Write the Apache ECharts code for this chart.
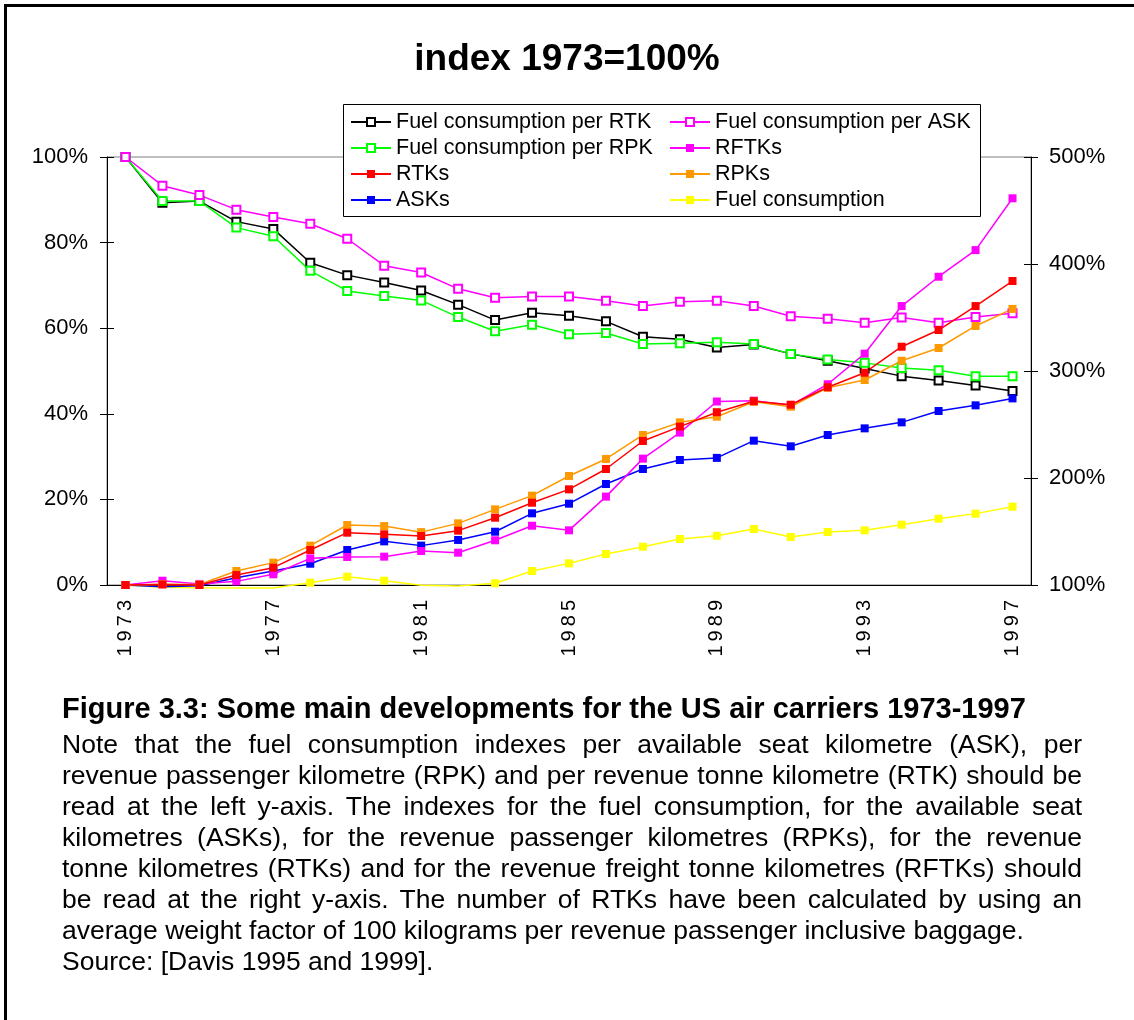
<!DOCTYPE html>
<html>
<head>
<meta charset="utf-8">
<script src="https://cdn.jsdelivr.net/npm/echarts@6/dist/echarts.min.js"></script>
<style>
  html, body { margin: 0; padding: 0; background: #fff; }
  #wrap { position: relative; width: 1134px; height: 1020px; overflow: hidden; }
  #frame { position: absolute; left: 4px; top: 4px; width: 1300px; height: 1200px; border-left: 3px solid #000; border-top: 3px solid #000; }
  #chart { position: absolute; left: 0; top: 0; width: 1134px; height: 1020px; }
  #caption { position: absolute; left: 62px; top: 691px; width: 1020px; font-family: Arial, 'Liberation Sans', sans-serif; color: #000; }
  #caption .head { font-size: 29px; font-weight: bold; line-height: 34px; margin-bottom: 4px; }
  #caption .ln { font-size: 26.5px; line-height: 31px; }
  #caption .j { text-align: justify; text-align-last: justify; }
</style>
</head>
<body>
<div id="wrap">
  <div id="chart"></div>
  <div id="frame"></div>
  <div id="caption">
    <div class="head">Figure 3.3: Some main developments for the US air carriers 1973-1997</div>
    <div class="ln j">Note that the fuel consumption indexes per available seat kilometre (ASK), per</div>
    <div class="ln j">revenue passenger kilometre (RPK) and per revenue tonne kilometre (RTK) should be</div>
    <div class="ln j">read at the left y-axis. The indexes for the fuel consumption, for the available seat</div>
    <div class="ln j">kilometres (ASKs), for the revenue passenger kilometres (RPKs), for the revenue</div>
    <div class="ln j">tonne kilometres (RTKs) and for the revenue freight tonne kilometres (RFTKs) should</div>
    <div class="ln j">be read at the right y-axis. The number of RTKs have been calculated by using an</div>
    <div class="ln">average weight factor of 100 kilograms per revenue passenger inclusive baggage.</div>
    <div class="ln">Source: [Davis 1995 and 1999].</div>
  </div>
</div>
<script>
// years on the x axis
const years = ['1973','1974','1975','1976','1977','1978','1979','1980','1981','1982','1983','1984','1985',
  '1986','1987','1988','1989','1990','1991','1992','1993','1994','1995','1996','1997'];

// left axis (%)
const fuelPerRTK = [100, 89.3, 89.7, 84.9, 83.2, 75.3, 72.4, 70.7, 68.8, 65.5, 61.9, 63.6, 62.9,
  61.6, 58.0, 57.4, 55.5, 56.2, 54.0, 52.4, 50.6, 48.8, 47.8, 46.6, 45.3];
const fuelPerRPK = [100, 89.7, 89.7, 83.5, 81.5, 73.4, 68.7, 67.5, 66.5, 62.6, 59.3, 60.8, 58.6,
  58.9, 56.3, 56.5, 56.7, 56.3, 54.0, 52.7, 51.9, 50.7, 50.2, 48.8, 48.8];
const fuelPerASK = [100, 93.3, 91.1, 87.7, 86.0, 84.4, 80.9, 74.6, 73.0, 69.2, 67.1, 67.4, 67.4,
  66.4, 65.2, 66.2, 66.4, 65.2, 62.8, 62.2, 61.3, 62.5, 61.3, 62.6, 63.5];

// right axis (%)
const rtks = [100, 100.5, 100, 109.3, 116.2, 132.7, 148.9, 147.4, 145.8, 150.8, 162.9, 176.9, 189.4,
  208.4, 234.6, 248.0, 261.5, 271.7, 268.5, 284.8, 298.4, 322.7, 338.3, 360.7, 384.1];
const rpks = [100, 100.8, 100.5, 113.1, 120.9, 136.8, 156.1, 155.1, 149.4, 157.6, 170.7, 183.5, 201.9,
  217.8, 240.2, 252.0, 257.3, 271.3, 266.6, 284.4, 291.6, 309.6, 321.5, 342.1, 358.0];
const asks = [100, 98.3, 99.2, 106.8, 113.1, 119.9, 132.7, 140.8, 136.8, 142.1, 149.8, 167.0, 176.0,
  194.4, 208.4, 216.8, 218.8, 234.9, 229.6, 240.2, 246.4, 252.0, 262.6, 267.9, 274.4];
const rftks = [100, 104.0, 101.0, 103.4, 110.0, 124.9, 126.2, 126.5, 131.8, 130.2, 141.8, 155.4, 151.1,
  182.6, 218.1, 242.4, 271.5, 272.3, 267.9, 287.6, 316.2, 360.7, 388.1, 413.0, 461.4];
const fuel = [100, 97.8, 97.5, 97.3, 97.2, 102.2, 107.8, 104.0, 99.7, 99.0, 101.6, 113.1, 120.2,
  129.0, 135.8, 143.0, 146.0, 152.3, 144.9, 149.5, 151.1, 156.4, 162.0, 166.7, 173.2];

const leftTicks = [0, 20, 40, 60, 80, 100];
const rightTicks = [100, 200, 300, 400, 500];

const FONT = 'Arial, "Liberation Sans", sans-serif';
const chart = echarts.init(document.getElementById('chart'));

// small helper for one line series
const mk = (name, data, color, axis, empty) => ({
  name: name,
  type: 'line',
  data: data,
  yAxisIndex: axis,
  symbol: empty ? 'emptyRect' : 'rect',
  symbolSize: axis === 1 ? (v => v < 100 ? 0 : 8) : 8,
  showAllSymbol: true,
  clip: axis !== 1,
  color: color,
  lineStyle: { width: 1.5 },
  itemStyle: { borderWidth: empty ? 1.5 : 0 }
});

const yBase = (pos, ticks, inside) => ({
  type: 'value',
  position: pos,
  min: ticks[0],
  max: ticks[ticks.length - 1],
  interval: ticks[1] - ticks[0],
  splitLine: { show: false },
  axisLine: { show: !inside, lineStyle: { color: '#000', width: 1 } },
  axisTick: { show: true, inside: inside, length: 7, lineStyle: { color: '#000' } },
  axisLabel: {
    show: !inside,
    formatter: '{value}%',
    color: '#000',
    fontSize: 22,
    fontFamily: FONT,
    margin: pos === 'left' ? 19 : 18
  }
});

const legendBase = {
  orient: 'vertical',
  top: 111,
  itemWidth: 40,
  itemHeight: 10,
  itemGap: 4,
  padding: 0,
  selectedMode: false,
  z: 10,
  textStyle: { fontSize: 21.5, lineHeight: 21, fontFamily: FONT, color: '#000' }
};

const option = {
  animation: false,
  backgroundColor: '#fff',
  title: {
    text: 'index 1973=100%',
    left: 'center',
    top: 41,
    padding: 0,
    textStyle: { fontSize: 37, fontWeight: 'bold', fontFamily: FONT, color: '#000' }
  },
  graphic: [{
    type: 'rect',
    z: 5,
    shape: { x: 343.5, y: 104.5, width: 637, height: 112 },
    style: { fill: '#fff', stroke: '#000', lineWidth: 1 }
  }],
  legend: [
    Object.assign({}, legendBase, {
      left: 350,
      data: ['Fuel consumption per RTK', 'Fuel consumption per RPK', 'RTKs', 'ASKs']
    }),
    Object.assign({}, legendBase, {
      left: 669,
      data: ['Fuel consumption per ASK', 'RFTKs', 'RPKs', 'Fuel consumption']
    })
  ],
  grid: {
    left: 107, right: 103, top: 157, bottom: 435,
    show: true, borderColor: '#808080', borderWidth: 1
  },
  xAxis: {
    type: 'category',
    data: years,
    boundaryGap: true,
    axisLine: { lineStyle: { color: '#000', width: 1 } },
    axisTick: { show: false },
    axisLabel: {
      interval: 3,
      rotate: 90,
      margin: 15,
      color: '#000',
      fontSize: 20,
      fontFamily: FONT,
      formatter: v => v.split('').join('\u2009')
    }
  },
  yAxis: [
    yBase('left', leftTicks, false),
    yBase('right', rightTicks, false),
    yBase('left', leftTicks, true),
    yBase('right', rightTicks, true)
  ],
  series: [
    mk('Fuel consumption per RTK', fuelPerRTK, '#000000', 0, true),
    mk('Fuel consumption per RPK', fuelPerRPK, '#00ff00', 0, true),
    mk('Fuel consumption per ASK', fuelPerASK, '#ff00ff', 0, true),
    mk('Fuel consumption', fuel, '#ffff00', 1, false),
    mk('ASKs', asks, '#0000ff', 1, false),
    mk('RFTKs', rftks, '#ff00ff', 1, false),
    mk('RPKs', rpks, '#ff9900', 1, false),
    mk('RTKs', rtks, '#ff0000', 1, false)
  ]
};

chart.setOption(option);
</script>
</body>
</html>
